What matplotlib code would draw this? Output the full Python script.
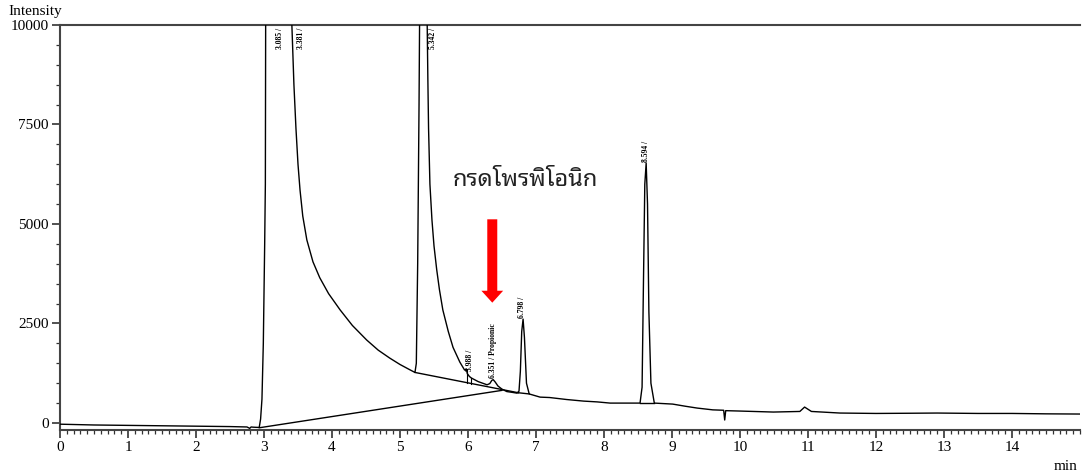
import matplotlib
matplotlib.use("Agg")
import matplotlib.pyplot as plt
from matplotlib import font_manager as fm
from matplotlib.ticker import MultipleLocator

# ---------------- data ----------------
trace_time = [0.00, 0.50, 1.00, 1.50, 2.00, 2.50, 2.75, 2.79, 2.81, 2.84, 2.90, 2.93,
              2.95, 2.97, 2.99, 3.01, 3.02, 3.025,
              3.41, 3.44, 3.47, 3.50, 3.53, 3.57, 3.63, 3.72, 3.82, 3.95, 4.12, 4.30,
              4.51, 4.68, 4.85, 5.00, 5.12, 5.22,
              5.24, 5.26, 5.28, 5.29,
              5.40, 5.41, 5.42, 5.44, 5.47, 5.50, 5.54, 5.58, 5.63, 5.71, 5.78, 5.88,
              5.95, 5.975, 5.99, 6.02,
              6.05, 6.15, 6.28, 6.32, 6.35, 6.37, 6.40, 6.44, 6.50, 6.57, 6.65, 6.72,
              6.75, 6.77, 6.79, 6.81, 6.83, 6.86, 6.90, 7.06, 7.20, 7.45, 7.70, 7.90,
              8.09, 8.30, 8.53, 8.56, 8.58, 8.60, 8.62, 8.64, 8.66, 8.69, 8.74, 9.01,
              9.20, 9.37, 9.60, 9.76, 9.775, 9.79, 10.00, 10.49, 10.88, 10.95, 11.05,
              11.47, 12.00, 12.50, 12.90, 13.50, 14.00, 14.50, 15.00]
trace_intensity = [-30, -50, -60, -70, -80, -90, -100, -135, -100, -105, -110, -110,
                   100, 600, 2000, 4500, 6000, 10600,
                   10000, 8500, 7400, 6500, 5850, 5200, 4600, 4050, 3650, 3250, 2840, 2450,
                   2085, 1830, 1630, 1470, 1360, 1270,
                   1500, 4000, 8000, 10600,
                   10000, 8600, 7400, 6000, 5100, 4450, 3850, 3350, 2840, 2300, 1900, 1530,
                   1330, 1360, 1240, 1170,
                   1130, 1040, 960, 990, 1070, 1090, 1030, 930, 850, 790, 770, 750,
                   800, 1300, 2300, 2610, 2150, 1000, 730, 650, 640, 590, 550, 530,
                   500, 500, 500, 900, 3500, 6000, 6530, 5500, 2800, 1000, 500, 475,
                   420, 375, 330, 320, 75, 310, 300, 275, 290, 400, 290,
                   250, 240, 245, 250, 240, 240, 230, 225]

# integration baselines (start time, start intensity, end time, end intensity)
baseline_t0 = [2.93, 5.22, 6.74, 8.53]
baseline_i0 = [-120, 1270, 760, 500]
baseline_t1 = [6.50, 6.74, 6.90, 8.74]
baseline_i1 = [820, 760, 730, 500]

# drop lines (time, top intensity, bottom intensity)
drop_t = [5.98, 6.05]
drop_top = [1350, 1130]
drop_bottom = [1000, 970]

# peak labels (text, x time, y intensity, vertical anchor)
peak_text = ["3.085 /", "3.381 /", "5.342 /", "5.988 /", "6.351 / Propionic", "6.798 /", "8.594 /"]
peak_x = [3.235, 3.55, 5.48, 6.03, 6.37, 6.80, 8.62]
peak_y = [9930, 9930, 9930, 1300, 1130, 2650, 6560]
peak_va = ["top", "top", "top", "bottom", "bottom", "bottom", "bottom"]

x_major = list(range(0, 15))
y_major = [0, 2500, 5000, 7500, 10000]

thai_label = "กรดโพรพิโอนิก"
arrow_x = 6.357
arrow_top = 5118
arrow_tip = 3023

# ---------------- fonts ----------------
available = {f.name for f in fm.fontManager.ttflist}
thai_pref = ["Noto Sans Thai Looped", "Sarabun", "Noto Sans Thai", "Loma"]
thai_font = next((f for f in thai_pref if f in available), "DejaVu Sans")
serif = "Liberation Serif" if "Liberation Serif" in available else "DejaVu Serif"

# ---------------- figure ----------------
fig = plt.figure(figsize=(10.82, 4.73), dpi=100)
ax = fig.add_axes([60 / 1082, 43 / 473, 1020 / 1082, 405 / 473])

ax.plot(trace_time, trace_intensity, color="black", lw=1.0, zorder=3)
for t0, i0, t1, i1 in zip(baseline_t0, baseline_i0, baseline_t1, baseline_i1):
    ax.plot([t0, t1], [i0, i1], color="black", lw=1.0, zorder=2)
for t, top, bot in zip(drop_t, drop_top, drop_bottom):
    ax.plot([t, t], [bot, top], color="black", lw=0.8, zorder=2)

for txt, x, y, va in zip(peak_text, peak_x, peak_y, peak_va):
    ax.text(x, y, txt, rotation=90, ha="center", va=va, fontsize=5.5,
            fontweight="bold", family=serif, zorder=4)

ax.text(6.85, 6100, thai_label, ha="center", va="center", fontsize=17,
        family=[thai_font, "DejaVu Sans"], color="#222222")

ax.arrow(arrow_x, arrow_top, 0, arrow_tip - arrow_top, width=0.147, head_width=0.32,
         head_length=300, length_includes_head=True, color="#ff0000", lw=0, zorder=5)

ax.set_xlim(0, 15.0)
ax.set_ylim(-176, 10000)
ax.set_xticks(x_major)
ax.set_yticks(y_major)
ax.xaxis.set_minor_locator(MultipleLocator(0.1))
ax.yaxis.set_minor_locator(MultipleLocator(500))
ax.tick_params(axis="both", which="major", direction="out", length=6, width=1.2,
               color="#333333", labelsize=11, pad=2)
ax.tick_params(axis="both", which="minor", direction="out", length=3, width=0.9,
               color="#333333")
for lab in ax.get_xticklabels() + ax.get_yticklabels():
    lab.set_family(serif)

for side in ["left", "bottom", "top"]:
    ax.spines[side].set_color("#444444")
    ax.spines[side].set_linewidth(1.5)
ax.spines["right"].set_visible(False)

fig.text(8 / 1082, 1 - 12 / 473, "Intensity", ha="left", va="center", fontsize=11, family=serif)
fig.text(1078 / 1082, 1 - 466 / 473, "min", ha="right", va="center", fontsize=11, family=serif)

fig.savefig("out.png", dpi=100)
